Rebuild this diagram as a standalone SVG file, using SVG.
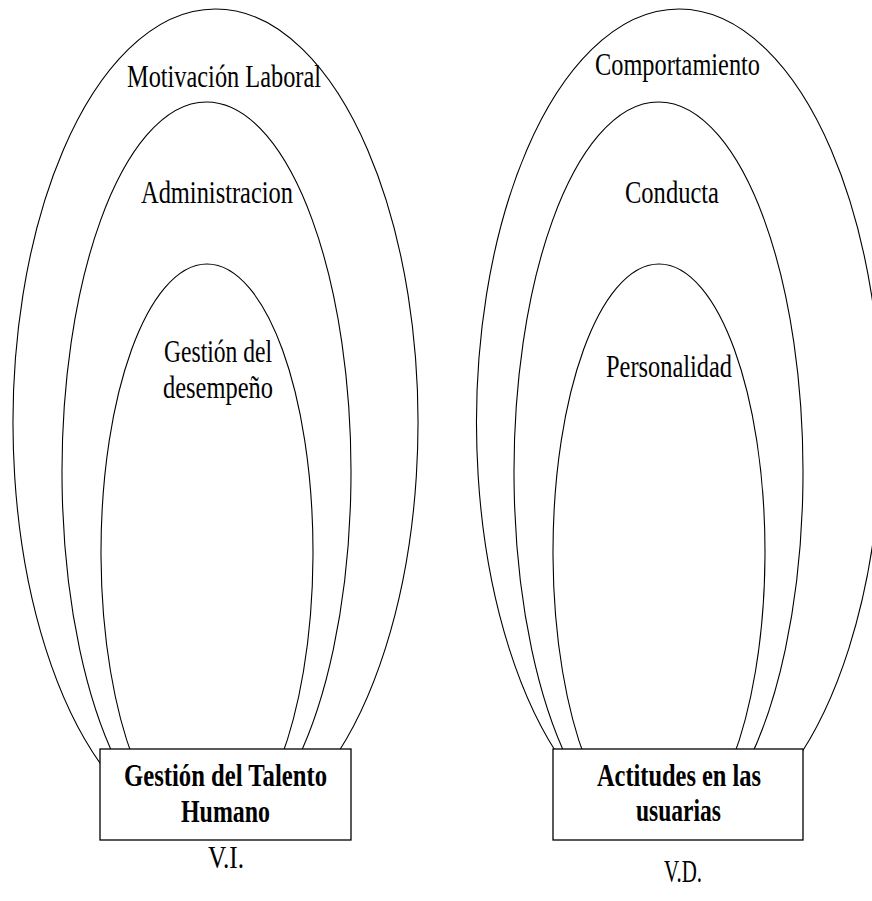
<svg xmlns="http://www.w3.org/2000/svg" width="872" height="901" viewBox="0 0 872 901">
<style>
.arc{fill:none;stroke:#000;stroke-width:1.1}
.box{fill:#fff;stroke:#000;stroke-width:1.3}
.t{font-family:"Liberation Serif","Times New Roman",serif;font-size:32px;fill:#000;text-anchor:middle}
.b{font-weight:bold}
</style>
<rect width="872" height="901" fill="#fff"/>
<g id="connectors">
<path class="arc" d="M102.8,767 A202.5,414 0 1 1 328.2,767"/>
<path class="arc" d="M115.8,760 A144.5,370 0 1 1 297.2,760"/>
<path class="arc" d="M133.7,760 A106,288 0 1 1 280.3,760"/>
<path class="arc" d="M566.3,767 A202.5,414 0 1 1 791.7,767"/>
<path class="arc" d="M567.8,760 A144.5,370 0 1 1 749.2,760"/>
<path class="arc" d="M585.7,760 A106,288 0 1 1 732.3,760"/>
</g>
<g id="motivacion"><text class="t" x="224" y="87" textLength="194" lengthAdjust="spacingAndGlyphs">Motivación Laboral</text></g>
<g id="administracion"><text class="t" x="217" y="203" textLength="152" lengthAdjust="spacingAndGlyphs">Administracion</text></g>
<g id="gestion-desempeno">
<text class="t" x="218" y="362" textLength="108" lengthAdjust="spacingAndGlyphs">Gestión del</text>
<text class="t" x="218" y="398" textLength="110" lengthAdjust="spacingAndGlyphs">desempeño</text>
</g>
<g id="comportamiento"><text class="t" x="677.5" y="75" textLength="165" lengthAdjust="spacingAndGlyphs">Comportamiento</text></g>
<g id="conducta"><text class="t" x="672" y="203" textLength="94" lengthAdjust="spacingAndGlyphs">Conducta</text></g>
<g id="personalidad"><text class="t" x="669" y="377" textLength="126" lengthAdjust="spacingAndGlyphs">Personalidad</text></g>
<g id="gestion-talento">
<rect class="box" x="100" y="749" width="251" height="91"/>
<text class="t b" x="225.5" y="786" textLength="203" lengthAdjust="spacingAndGlyphs">Gestión del Talento</text>
<text class="t b" x="225.5" y="822" textLength="89" lengthAdjust="spacingAndGlyphs">Humano</text>
</g>
<g id="actitudes">
<rect class="box" x="553" y="749" width="250" height="91"/>
<text class="t b" x="679" y="786" textLength="164" lengthAdjust="spacingAndGlyphs">Actitudes en las</text>
<text class="t b" x="678.5" y="821" textLength="85" lengthAdjust="spacingAndGlyphs">usuarias</text>
</g>
<g id="vi"><text class="t" x="226" y="868" textLength="36" lengthAdjust="spacingAndGlyphs">V.I.</text></g>
<g id="vd"><text class="t" x="683" y="882" textLength="38" lengthAdjust="spacingAndGlyphs">V.D.</text></g>
</svg>
